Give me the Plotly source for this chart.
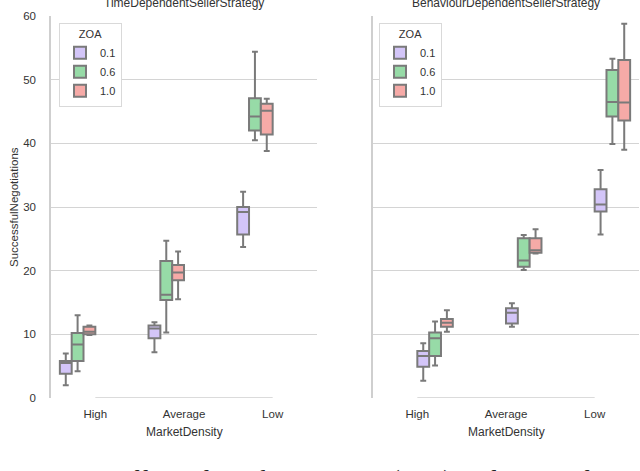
import plotly.graph_objects as go

densities = ["High", "Average", "Low"]
zoa_levels = ["0.1", "0.6", "1.0"]
box_colors = ["#d3c5f8", "#97dba7", "#f6aaa7"]

# each row: [lower whisker, q1, median, q3, upper whisker] for High / Average / Low
time_zoa01 = [[2.0, 3.8, 5.5, 5.8, 7.0], [7.2, 9.4, 10.9, 11.4, 11.9], [23.7, 25.7, 29.2, 30.0, 32.4]]
time_zoa06 = [[4.2, 5.8, 8.4, 10.2, 13.0], [10.3, 15.4, 16.2, 21.5, 24.7], [40.5, 42.0, 44.2, 47.1, 54.4]]
time_zoa10 = [[9.9, 10.0, 10.4, 11.2, 11.4], [15.5, 18.5, 19.7, 20.9, 23.0], [38.8, 41.4, 45.1, 46.2, 47.0]]

behav_zoa01 = [[2.7, 4.9, 6.6, 7.4, 8.6], [11.2, 11.7, 13.4, 14.1, 14.9], [25.7, 29.3, 30.4, 32.8, 35.8]]
behav_zoa06 = [[5.1, 6.6, 9.4, 10.3, 12.0], [20.1, 20.6, 21.6, 25.1, 25.6], [39.9, 44.2, 46.5, 51.5, 53.3]]
behav_zoa10 = [[10.4, 11.2, 11.8, 12.4, 13.8], [22.7, 22.8, 23.2, 25.1, 26.5], [39.0, 43.6, 46.4, 53.1, 58.8]]

titles = ["TimeDependentSellerStrategy", "BehaviourDependentSellerStrategy"]
caption = "Figure 3:\u00a0 Effect of Market Density (MD) and Zone of Agreement (ZOA)"

FONT = "Liberation Sans, Arial, sans-serif"
TXT = "#333333"
GRID = "#d4d4d4"

fig = go.Figure()

panels = [
    ("x", "y", "legend", [time_zoa01, time_zoa06, time_zoa10]),
    ("x2", "y2", "legend2", [behav_zoa01, behav_zoa06, behav_zoa10]),
]
for xa, ya, leg, series in panels:
    for zoa, col, stats in zip(zoa_levels, box_colors, series):
        fig.add_trace(go.Box(
            x=densities,
            lowerfence=[s[0] for s in stats],
            q1=[s[1] for s in stats],
            median=[s[2] for s in stats],
            q3=[s[3] for s in stats],
            upperfence=[s[4] for s in stats],
            name=zoa, fillcolor=col,
            line=dict(color="#7a7a7a", width=2),
            whiskerwidth=0.5, boxpoints=False,
            xaxis=xa, yaxis=ya, legend=leg,
            hoverinfo="skip",
        ))

# plot area: left panel 51..317 px, right panel 373..639 px, y 16..398 px
L, R, T, B = 51, 1, 16, 73
W = 640 - L - R
H = 471 - T - B
d1 = [0, (317 - L) / W]
d2 = [(373 - L) / W, 1]

xcommon = dict(type="category", range=[-0.5, 2.5], showgrid=False, showline=True,
               linecolor="white", linewidth=3, ticks="", ticklabelstandoff=3,
               tickfont=dict(family=FONT, size=11.5, color=TXT))
ycommon = dict(range=[0, 60], tickvals=[0, 10, 20, 30, 40, 50, 60], showgrid=True,
               gridcolor=GRID, gridwidth=1, zeroline=False, showline=True,
               linecolor="#cfcfcf", linewidth=1.5, ticks="",
               tickfont=dict(family=FONT, size=11.5, color=TXT))

legcommon = dict(bgcolor="white", bordercolor="#d9d9d9", borderwidth=1,
                 font=dict(family=FONT, size=11, color=TXT),
                 title=dict(text="ZOA", side="top center", font=dict(family=FONT, size=11, color=TXT)),
                 yanchor="top", xanchor="left", tracegroupgap=0, itemwidth=30)

fig.update_layout(
    width=640, height=471,
    margin=dict(l=L, r=R, t=T, b=B),
    paper_bgcolor="white", plot_bgcolor="white",
    boxmode="group", boxgap=0.2, boxgroupgap=0,
    xaxis=dict(domain=d1, anchor="y", **xcommon),
    xaxis2=dict(domain=d2, anchor="y2", **xcommon),
    yaxis=dict(anchor="x", ticklabelstandoff=11, **ycommon),
    yaxis2=dict(anchor="x2", matches="y", showticklabels=False, **ycommon),
    legend=dict(x=(59 - L) / W, y=(398 - 23) / H, **legcommon),
    legend2=dict(x=(379 - L) / W, y=(398 - 23) / H, **legcommon),
    showlegend=True,
)

# trimmed bottom spines from first to last category
for xr, yr in [("x", "y"), ("x2", "y2")]:
    fig.add_shape(type="line", xref=xr, yref=yr, x0=densities[0], x1=densities[-1],
                  y0=0, y1=0, line=dict(color="#cfcfcf", width=1.5), layer="above")

annots = []
for dom, t in zip([d1, d2], titles):
    cx = (dom[0] + dom[1]) / 2
    annots.append(dict(text=t, x=cx, y=(398 - 12) / H, xref="paper", yref="paper",
                       xanchor="center", yanchor="bottom", showarrow=False,
                       font=dict(family=FONT, size=12, color=TXT)))
    annots.append(dict(text="MarketDensity", x=cx, y=(398 - 432) / H, xref="paper", yref="paper",
                       xanchor="center", yanchor="middle", showarrow=False,
                       font=dict(family=FONT, size=12, color=TXT)))
annots.append(dict(text="SuccessfulNegotiations", x=(14 - L) / W, y=(398 - 207) / H,
                   xref="paper", yref="paper", textangle=-90, xanchor="center", yanchor="middle",
                   showarrow=False, font=dict(family=FONT, size=11.5, color=TXT)))
annots.append(dict(text=caption, x=(0 - L) / W, y=(398 - 463) / H, xref="paper", yref="paper",
                   xanchor="left", yanchor="top", showarrow=False,
                   font=dict(family="Liberation Serif, Times New Roman, serif", size=27, color="#222222")))
fig.update_layout(annotations=annots)

# the page has a default body margin; drop it so the figure sits at the window corner
fig.write_html("out.html", config={"displayModeBar": False},
               post_script="document.body.style.margin='0';")
